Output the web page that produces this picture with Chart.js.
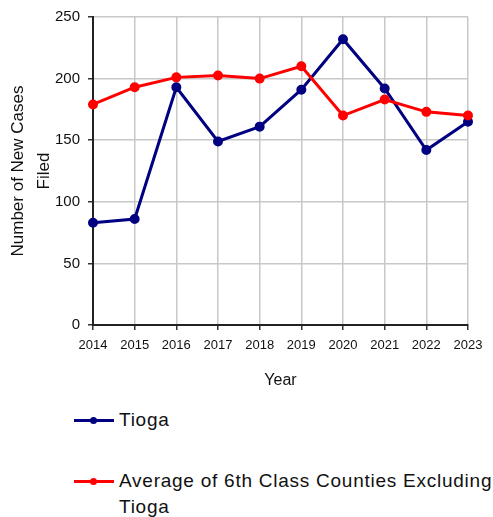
<!DOCTYPE html>
<html>
<head>
<meta charset="utf-8">
<script src="https://cdn.jsdelivr.net/npm/chart.js"></script>
<style>
  body { margin: 0; background: #fff; font-family: "Liberation Sans", Arial, sans-serif; }
  #wrap { position: relative; width: 493px; height: 517px; }
  #chartBox { position: absolute; left: 0; top: 0; width: 493px; height: 390px; }
  #leyenda { position: absolute; left: 74px; top: 0; width: 419px; }
  .item { position: absolute; left: 0; display: flex; align-items: flex-start; font-size: 19px; letter-spacing: 0.75px; color: #111; line-height: 26px; white-space: nowrap; }
  .marca { position: relative; width: 40px; height: 26px; margin-right: 5px; flex: none; }
  .marca .linea { position: absolute; left: 0; right: 0; top: 12px; height: 3px; }
  .marca .punto { position: absolute; left: 16px; top: 10px; width: 7px; height: 7px; border-radius: 50%; }
</style>
</head>
<body>
<div id="wrap">
  <div id="chartBox"><canvas id="myChart" width="493" height="390"></canvas></div>
  <div id="leyenda"></div>
</div>
<script>
const anios = ["2014", "2015", "2016", "2017", "2018", "2019", "2020", "2021", "2022", "2023"]
const tioga = [83, 86, 193, 149, 161, 191, 232, 192, 142, 165]
const promedio6ta = [179, 193, 201, 202.5, 200, 210, 170, 183, 173, 170]
const ticksY = [0, 50, 100, 150, 200, 250]

const nombreTioga = "Tioga"
const nombrePromedio = ["Average of 6th Class Counties Excluding", "Tioga"]

const colorTioga = "#000080"
const colorPromedio = "#ff0000"

///LEYENDA EN HTML
function renderLeyenda() {
    const leyenda = document.getElementById("leyenda")
    const items = [
        { texto: [nombreTioga], color: colorTioga, top: 407 },
        { texto: nombrePromedio, color: colorPromedio, top: 468 }
    ]
    let template = ""
    for (let it of items) {
        template += `
            <div class="item" style="top:${it.top}px">
                <div class="marca">
                    <div class="linea" style="background:${it.color}"></div>
                    <div class="punto" style="background:${it.color}"></div>
                </div>
                <div>${it.texto.join("<br>")}</div>
            </div>
        `
    }
    leyenda.innerHTML = template
}

///GRAFICA
function renderGrafica() {
    const config = {
        type: "line",
        data: {
            labels: anios,
            datasets: [
                {
                    label: nombreTioga,
                    data: tioga,
                    borderColor: colorTioga,
                    backgroundColor: colorTioga,
                    borderWidth: 3,
                    pointRadius: 3.5,
                    pointHoverRadius: 3.5,
                    tension: 0,
                    order: 1
                },
                {
                    label: nombrePromedio.join(" "),
                    data: promedio6ta,
                    borderColor: colorPromedio,
                    backgroundColor: colorPromedio,
                    borderWidth: 3,
                    pointRadius: 3.5,
                    pointHoverRadius: 3.5,
                    tension: 0,
                    order: 0
                }
            ]
        },
        options: {
            responsive: false,
            animation: false,
            layout: { padding: { top: 17, right: 25, left: 0, bottom: 0 } },
            plugins: {
                legend: { display: false },
                tooltip: { enabled: false }
            },
            scales: {
                x: {
                    grid: { color: "#c8c8c8", lineWidth: 1.5, tickLength: 5, tickColor: "#333" },
                    border: { color: "#222", width: 2 },
                    ticks: {
                        color: "#111",
                        font: { family: "Liberation Sans", size: 13 },
                        padding: 8,
                        maxRotation: 0,
                        autoSkip: false
                    },
                    title: {
                        display: true,
                        text: "Year",
                        color: "#111",
                        font: { family: "Liberation Sans", size: 16 },
                        padding: { top: 9, bottom: 0 }
                    },
                    afterFit: (s) => { s.height = 65 }
                },
                y: {
                    min: 0,
                    max: 250,
                    afterBuildTicks: (s) => { s.ticks = ticksY.map((v) => ({ value: v })) },
                    grid: { color: "#c8c8c8", lineWidth: 1.5, tickLength: 5, tickColor: "#333" },
                    border: { color: "#222", width: 2 },
                    ticks: {
                        color: "#111",
                        font: { family: "Liberation Sans", size: 15 },
                        padding: 8
                    },
                    title: {
                        display: true,
                        text: ["Number of New Cases", "Filed"],
                        color: "#111",
                        font: { family: "Liberation Sans", size: 17, lineHeight: 1.5 },
                        padding: { top: 6, bottom: 0 }
                    },
                    afterFit: (s) => { s.width = 93 }
                }
            }
        }
    }

    new Chart(document.getElementById("myChart"), config)
}

renderGrafica()
renderLeyenda()
</script>
</body>
</html>
